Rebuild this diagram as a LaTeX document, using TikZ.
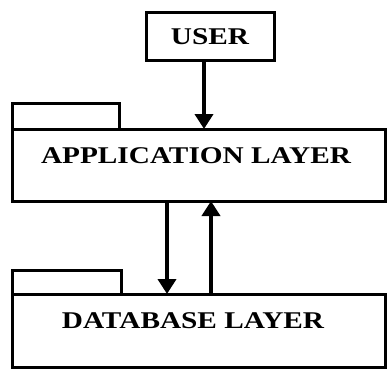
\documentclass[tikz,border=0pt]{standalone}
\usepackage{fontspec}
\setmainfont{Liberation Serif}
\usetikzlibrary{arrows.meta}
\begin{document}
\begin{tikzpicture}[x=1pt,y=-1pt,
  box/.style={draw=black,line width=3pt,fill=white},
  lblfont/.style={font=\fontsize{24}{24}\selectfont\bfseries},
  lbl/.style={lblfont,xscale=1.22,inner sep=0pt},
  conn/.style={line width=4pt,-{Triangle[width=18pt,length=15pt]}}]
\useasboundingbox (0,0) rectangle (387,370);
% application layer
\draw[box] (12,103) rectangle (119,129);
\draw[box] (12,129) rectangle (385,201);
\node[lbl] (applbl) at (196,155.5) {APPLICATION LAYER};
\coordinate (appTop) at (204,129);
\coordinate (appBotL) at (167,201);
\coordinate (appBotR) at (211,201);
% database layer
\draw[box] (12,270) rectangle (121,294);
\draw[box] (12,294) rectangle (385,367);
\node[lbl] (dblbl) at (193,321) {DATABASE LAYER};
\coordinate (dbTopL) at (167,294);
\coordinate (dbTopR) at (211,294);
% user
\node[box,lblfont,minimum width=128pt,minimum height=48pt,inner sep=0pt] (user) at (210,36.5) {\scalebox{1.22}[1]{USER}};
\draw[conn] (user.south -| appTop) -- (appTop);
\draw[conn] (appBotL) -- (dbTopL);
\draw[conn] (dbTopR) -- (appBotR);
\end{tikzpicture}
\end{document}
